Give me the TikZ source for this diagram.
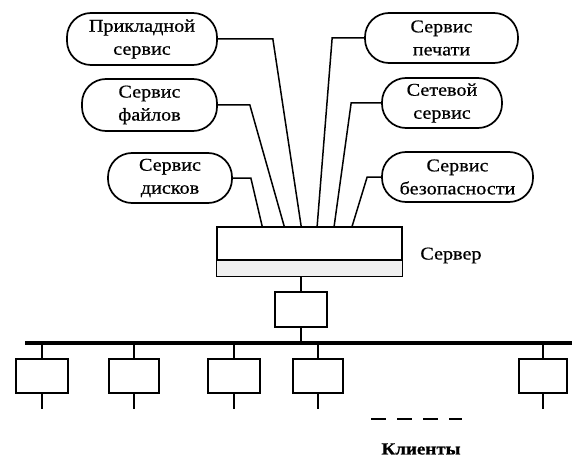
\documentclass[tikz,border=0pt]{standalone}
\usepackage{fontspec}
\setmainfont[FakeStretch=1.12,FakeBold=0.7]{Liberation Serif}
\usetikzlibrary{calc}

\begin{document}
\begin{tikzpicture}[x=1pt,y=-1pt,
    svc/.style={draw, line width=1.7pt, rounded corners=24pt, align=center, inner sep=0pt, font=\fontsize{18}{23}\selectfont},
    box/.style={draw, line width=1.7pt, inner sep=0pt},
    wire/.style={line width=1.5pt}]
  \useasboundingbox (0,0) rectangle (572,457);

  % services
  \node[svc, minimum width=150pt, minimum height=52pt] (appl) at (142,39) {Прикладной\\сервис};
  \node[svc, minimum width=135pt, minimum height=52pt] (files) at (149.5,105) {Сервис\\файлов};
  \node[svc, minimum width=124pt, minimum height=50pt] (disks) at (170,178) {Сервис\\дисков};
  \node[svc, minimum width=153pt, minimum height=50pt] (print) at (441.5,38) {Сервис\\печати};
  \node[svc, minimum width=120pt, minimum height=50pt] (net) at (442,103) {Сетевой\\сервис};
  \node[svc, minimum width=151pt, minimum height=50pt] (secur) at (457.5,177) {Сервис\\безопасности};

  % server
  \node[box, minimum width=185pt, minimum height=49pt] (srv) at (309.5,251.5) {};
  \fill[gray!12] ([shift={(0.9pt,0.9pt)}]srv.south west) rectangle ([shift={(-0.9pt,17pt)}]srv.south east);
  \draw[line width=1.9pt] ([yshift=17pt]srv.south west) -- ([yshift=17pt]srv.south east);
  \node[anchor=west, font=\fontsize{18}{22}\selectfont] (srvlbl) at ([xshift=14pt,yshift=-4pt]srv.east) {Сервер};

  \draw[wire] (disks.east) -- ++(18,0) -- ([xshift=46pt]srv.north west);
  \draw[wire] (files.east) -- ++(32,0) -- ([xshift=68pt]srv.north west);
  \draw[wire] (appl.east) -- ++(55,0) -- ([xshift=85pt]srv.north west);
  \draw[wire] (print.west) -- ++(-32,0) -- ([xshift=101pt]srv.north west);
  \draw[wire] (net.west) -- ++(-30,0) -- ([xshift=118pt]srv.north west);
  \draw[wire] (secur.west) -- ++(-14,0) -- ([xshift=136pt]srv.north west);

  % hub and bus
  \node[box, minimum width=52pt, minimum height=35pt] (hub) at (301,309.5) {};
  \draw[wire] (srv.south -| hub) -- (hub.north);
  \coordinate (busW) at (25,343);
  \coordinate (busE) at (572,343);
  \draw[line width=4pt] (busW) -- (busE);
  \draw[wire] (hub.south) -- (hub.south |- busW);

  % clients
  \foreach \n/\x/\w in {1/42/52, 2/134/50, 3/234/52, 4/318/50, 5/543/48} {
    \node[box, minimum width=\w pt, minimum height=34pt] (cl\n) at (\x,376) {};
    \draw[wire] (cl\n.north) -- (cl\n.north |- busW);
    \draw[wire] (cl\n.south) -- ++(0,15);
  }
  \draw[line width=1.8pt, dash pattern=on 15pt off 11pt] (371,419) -- (462,419);
  \node[font=\bfseries\fontsize{17}{20}\selectfont] (clients) at (421,449) {Клиенты};
\end{tikzpicture}
\end{document}
